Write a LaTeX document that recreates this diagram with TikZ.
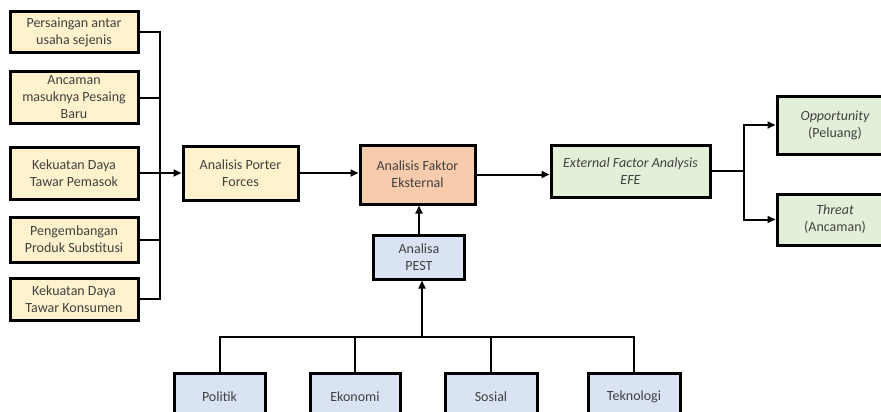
\documentclass[tikz,border=0pt]{standalone}
\usepackage{fontspec}
\setmainfont{Carlito}
\usetikzlibrary{arrows.meta}
\definecolor{yel}{HTML}{FFF2CC}
\definecolor{peach}{HTML}{F8CBAD}
\definecolor{grn}{HTML}{E2F0D9}
\definecolor{blu}{HTML}{DAE3F3}
\definecolor{txt}{HTML}{404040}
\begin{document}
\begin{tikzpicture}[x=1pt,y=-1pt,
  box/.style={draw=black,line width=3pt,rectangle,align=center,inner sep=2pt,
    text=txt,font=\fontsize{14}{17}\selectfont},
  conn/.style={line width=2pt},
  arr/.style={conn,-{Triangle[length=8pt,width=7pt]}}]
\useasboundingbox (0,0) rectangle (881,412);
\clip (0,0) rectangle (881,412);
% left column
\node[box,fill=yel,minimum width=128pt,minimum height=41pt] (b1) at (74,32.5) {Persaingan antar\\usaha sejenis};
\node[box,fill=yel,minimum width=128pt,minimum height=51pt] (b2) at (74,97.5) {Ancaman\\masuknya Pesaing\\Baru};
\node[box,fill=yel,minimum width=128pt,minimum height=52pt] (b3) at (74,173) {Kekuatan Daya\\Tawar Pemasok};
\node[box,fill=yel,minimum width=128pt,minimum height=45pt] (b4) at (74,239.5) {Pengembangan\\Produk Substitusi};
\node[box,fill=yel,minimum width=128pt,minimum height=42pt] (b5) at (74,299) {Kekuatan Daya\\Tawar Konsumen};
% middle
\node[box,fill=yel,minimum width=115pt,minimum height=54pt] (porter) at (240.5,173) {Analisis Porter\\Forces};
\node[box,fill=peach,minimum width=115pt,minimum height=59pt] (faktor) at (417.5,174.5) {Analisis Faktor\\Eksternal};
\node[box,fill=blu,minimum width=91pt,minimum height=44pt] (pest) at (419,257) {Analisa\\PEST};
\node[box,fill=grn,minimum width=159pt,minimum height=52pt] (efe) at (630.5,171) {\itshape External Factor Analysis\\\itshape EFE};
\node[box,fill=grn,minimum width=116pt,minimum height=58pt] (opp) at (835,125) {\itshape Opportunity\\(Peluang)};
\node[box,fill=grn,minimum width=116pt,minimum height=51pt] (thr) at (835,219.5) {\itshape Threat\\(Ancaman)};
% bottom
\node[box,fill=blu,minimum width=91pt,minimum height=48pt] (pol) at (219.5,397) {Politik};
\node[box,fill=blu,minimum width=90pt,minimum height=48pt] (eko) at (355,397) {Ekonomi};
\node[box,fill=blu,minimum width=92pt,minimum height=48pt] (sos) at (491,397) {Sosial};
\node[box,fill=blu,minimum width=92pt,minimum height=48pt] (tek) at (634,397) {Teknologi};
% connectors
\coordinate (bus) at (160,170);
\draw[conn] (b1.east) -| (bus) |- (b5.east);
\draw[conn] (b2.east) -- (b2.east -| bus);
\draw[conn] (b4.east) -- (b4.east -| bus);
\draw[arr] (b3.east) -- (porter.west);
\draw[arr] (porter.east) -- (porter.east -| faktor.west);
\draw[arr] (faktor.east) -- (faktor.east -| efe.west);
\coordinate (sp) at (744,171);
\draw[conn] (efe.east) -- (sp);
\draw[arr] (sp) |- (opp.west);
\draw[arr] (sp) |- (thr.west);
\draw[arr] (pest.north) -- (pest.north |- faktor.south);
\coordinate (j) at (422,337);
\draw[arr] (j) -- (j |- pest.south);
\draw[conn] (pol.north) |- (j) -| (tek.north);
\draw[conn] (eko.north) -- (eko.north |- j);
\draw[conn] (sos.north) -- (sos.north |- j);
\end{tikzpicture}
\end{document}
